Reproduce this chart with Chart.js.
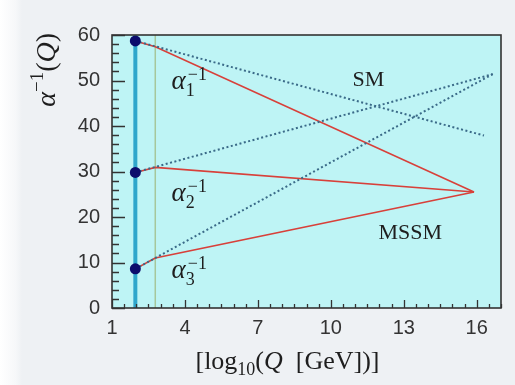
<!DOCTYPE html>
<html>
<head>
<meta charset="utf-8">
<script src="https://cdn.jsdelivr.net/npm/chart.js@4.4.1/dist/chart.umd.min.js"></script>
<style>
html, body { margin: 0; padding: 0; }
body {
  width: 515px; height: 385px; overflow: hidden;
  background: linear-gradient(to right, #ffffff 0px, #f6f7f9 16px, #eef1f4 22px);
}
canvas { display: block; }
</style>
</head>
<body>
<canvas id="myChart" width="515" height="385"></canvas>
<script>
// axis ticks
const xTicks = [1, 4, 7, 10, 13, 16]
const yTicks = [0, 10, 20, 30, 40, 50, 60]

// log10 of M_Z and of the susy threshold (vertical markers)
const mzScale = 1.96
const susyScale = 2.78

// measured alpha^-1 at M_Z
const alphaInvMz = [58.7, 29.8, 8.6]

// SM running (dotted)
const sm1X = [1.96, 16.3],  sm1Y = [58.7, 37.9]
const sm2X = [1.96, 16.66], sm2Y = [29.8, 51.4]
const sm3X = [1.96, 16.66], sm3Y = [8.6, 51.4]

// MSSM running (red)
const mssm1X = [1.96, 2.78, 15.89], mssm1Y = [58.7, 57.4, 25.5]
const mssm2X = [1.96, 2.78, 15.89], mssm2Y = [29.8, 30.9, 25.5]
const mssm3X = [1.96, 2.78, 15.89], mssm3Y = [8.6, 11.0, 25.5]

// text in the plot, anchored in data units (baseline)
const curveLabels = [
  { x: 3.45, y: 48.2, sub: '1' },
  { x: 3.45, y: 23.6, sub: '2' },
  { x: 3.45, y: 6.5, sub: '3' }
]
const modelLabels = [
  { text: 'SM', x: 11.55, y: 48.7 },
  { text: 'MSSM', x: 13.27, y: 15.1 }
]

const SERIF = '"Liberation Serif", "Times New Roman", serif'
const SANS = '"Liberation Sans", Arial, sans-serif'

function series (xs, ys) {
  return xs.map((x, i) => ({ x: x, y: ys[i] }))
}

// draws a list of text runs one after another, returns the width
function drawRuns (ctx, runs, x, y, measureOnly) {
  let cx = x
  runs.forEach(r => {
    ctx.font = (r.italic ? 'italic ' : '') + r.size + 'px ' + SERIF
    if (r.stack) {
      // sub and sup on the same x
      let w = 0
      r.stack.forEach(s => {
        ctx.font = s.size + 'px ' + SERIF
        if (!measureOnly) ctx.fillText(s.t, cx + (s.dx || 0), y + s.dy)
        w = Math.max(w, ctx.measureText(s.t).width + (s.dx || 0))
      })
      cx += w
    } else {
      if (!measureOnly) ctx.fillText(r.t, cx, y + (r.dy || 0))
      cx += ctx.measureText(r.t).width
    }
  })
  return cx - x
}

const decorations = {
  id: 'decorations',
  beforeDraw (chart) {
    const { ctx, chartArea: a } = chart
    ctx.save()
    ctx.fillStyle = '#bef4f5'
    ctx.fillRect(a.left, a.top, a.right - a.left, a.bottom - a.top)
    ctx.restore()
  },
  afterDraw (chart) {
    const { ctx, chartArea: a, scales } = chart
    const x = scales.x, y = scales.y
    ctx.save()
    ctx.strokeStyle = '#333'
    ctx.lineWidth = 1.3
    ctx.beginPath()
    // inner ticks on the left axis, minor every 2
    for (let v = yTicks[0]; v <= yTicks[yTicks.length - 1]; v += 2) {
      const py = Math.round(y.getPixelForValue(v)) + 0.5
      const len = yTicks.includes(v) ? 13 : 7
      ctx.moveTo(a.left, py)
      ctx.lineTo(a.left + len, py)
    }
    // inner ticks on the bottom axis, minor every 0.5
    for (let v = x.min; v <= x.max; v += 0.5) {
      const px = Math.round(x.getPixelForValue(v)) + 0.5
      const len = xTicks.includes(v) ? 8 : 4
      ctx.moveTo(px, a.bottom)
      ctx.lineTo(px, a.bottom - len)
    }
    ctx.stroke()
    ctx.lineWidth = 1.6
    ctx.strokeRect(a.left, a.top, a.right - a.left, a.bottom - a.top)

    ctx.fillStyle = '#1e1e1e'
    ctx.textBaseline = 'alphabetic'
    ctx.textAlign = 'left'

    // alpha_i^-1 labels
    curveLabels.forEach(l => {
      const runs = [
        { t: '\u03b1', italic: true, size: 27 },
        { stack: [{ t: l.sub, size: 18, dy: 7, dx: 0 }, { t: '\u22121', size: 18, dy: -9, dx: 2 }] }
      ]
      drawRuns(ctx, runs, x.getPixelForValue(l.x), y.getPixelForValue(l.y))
    })

    // model names
    ctx.textAlign = 'center'
    ctx.font = '22px ' + SERIF
    modelLabels.forEach(l => {
      ctx.fillText(l.text, x.getPixelForValue(l.x), y.getPixelForValue(l.y))
    })
    ctx.textAlign = 'left'

    // x axis title
    const xRuns = [
      { t: '[log', size: 26 },
      { t: '10', size: 18, dy: 6 },
      { t: '(', size: 26 },
      { t: 'Q', italic: true, size: 26 },
      { t: '  [GeV])]', size: 26 }
    ]
    const xw = drawRuns(ctx, xRuns, 0, 0, true)
    drawRuns(ctx, xRuns, (a.left + a.right) / 2 - 19 - xw / 2, a.bottom + 61)

    // y axis title, rotated
    const yRuns = [
      { t: '\u03b1', italic: true, size: 28 },
      { t: '\u22121', size: 19, dy: -12 },
      { t: '(', size: 28 },
      { t: 'Q', italic: true, size: 28 },
      { t: ')', size: 28 }
    ]
    const yw = drawRuns(ctx, yRuns, 0, 0, true)
    ctx.translate(a.left - 57, a.top - 2)
    ctx.rotate(-Math.PI / 2)
    drawRuns(ctx, yRuns, -yw, 0)
    ctx.restore()
  }
}

const lineDefaults = { showLine: true, pointRadius: 0, fill: false, tension: 0 }

const smStyle = Object.assign({}, lineDefaults, {
  borderColor: '#3a6a88', borderWidth: 2, borderDash: [2, 2.5], order: 1
})
const mssmStyle = Object.assign({}, lineDefaults, {
  borderColor: '#d8403a', borderWidth: 1.6, order: 2
})

const ctx = document.getElementById('myChart').getContext('2d')
const myChart = new Chart(ctx, {
  type: 'scatter',
  data: {
    datasets: [
      Object.assign({}, lineDefaults, {
        label: 'M_Z',
        data: series([mzScale, mzScale], [yTicks[0], yTicks[yTicks.length - 1]]),
        borderColor: '#2fa6cb', borderWidth: 4, order: 5
      }),
      Object.assign({}, lineDefaults, {
        label: 'SUSY',
        data: series([susyScale, susyScale], [yTicks[0], yTicks[yTicks.length - 1]]),
        borderColor: '#a6c79c', borderWidth: 1.5, order: 4
      }),
      Object.assign({}, smStyle, { label: 'SM 1', data: series(sm1X, sm1Y) }),
      Object.assign({}, smStyle, { label: 'SM 2', data: series(sm2X, sm2Y) }),
      Object.assign({}, smStyle, { label: 'SM 3', data: series(sm3X, sm3Y) }),
      Object.assign({}, mssmStyle, { label: 'MSSM 1', data: series(mssm1X, mssm1Y) }),
      Object.assign({}, mssmStyle, { label: 'MSSM 2', data: series(mssm2X, mssm2Y) }),
      Object.assign({}, mssmStyle, { label: 'MSSM 3', data: series(mssm3X, mssm3Y) }),
      {
        label: 'alpha^-1(M_Z)',
        data: alphaInvMz.map(v => ({ x: mzScale, y: v })),
        showLine: false,
        pointRadius: 5.5,
        pointBackgroundColor: '#0c0c6c',
        pointBorderColor: '#0c0c6c',
        pointBorderWidth: 0,
        order: 0
      }
    ]
  },
  options: {
    responsive: false,
    animation: false,
    layout: { padding: { left: 78, right: 14, top: 35, bottom: 45 } },
    plugins: { legend: { display: false }, tooltip: { enabled: false } },
    scales: {
      x: {
        type: 'linear',
        min: 1,
        max: 17,
        afterBuildTicks: s => { s.ticks = xTicks.map(v => ({ value: v })) },
        afterFit: s => { s.height = 32 },
        grid: { display: false, drawTicks: false },
        border: { display: false },
        ticks: { font: { family: SANS, size: 20 }, color: '#333', padding: 8, maxRotation: 0, autoSkip: false }
      },
      y: {
        type: 'linear',
        min: 0,
        max: 60,
        afterBuildTicks: s => { s.ticks = yTicks.map(v => ({ value: v })) },
        afterFit: s => { s.width = 34 },
        grid: { display: false, drawTicks: false },
        border: { display: false },
        ticks: { font: { family: SANS, size: 20 }, color: '#333', padding: 12, autoSkip: false }
      }
    }
  },
  plugins: [decorations]
})
</script>
</body>
</html>
